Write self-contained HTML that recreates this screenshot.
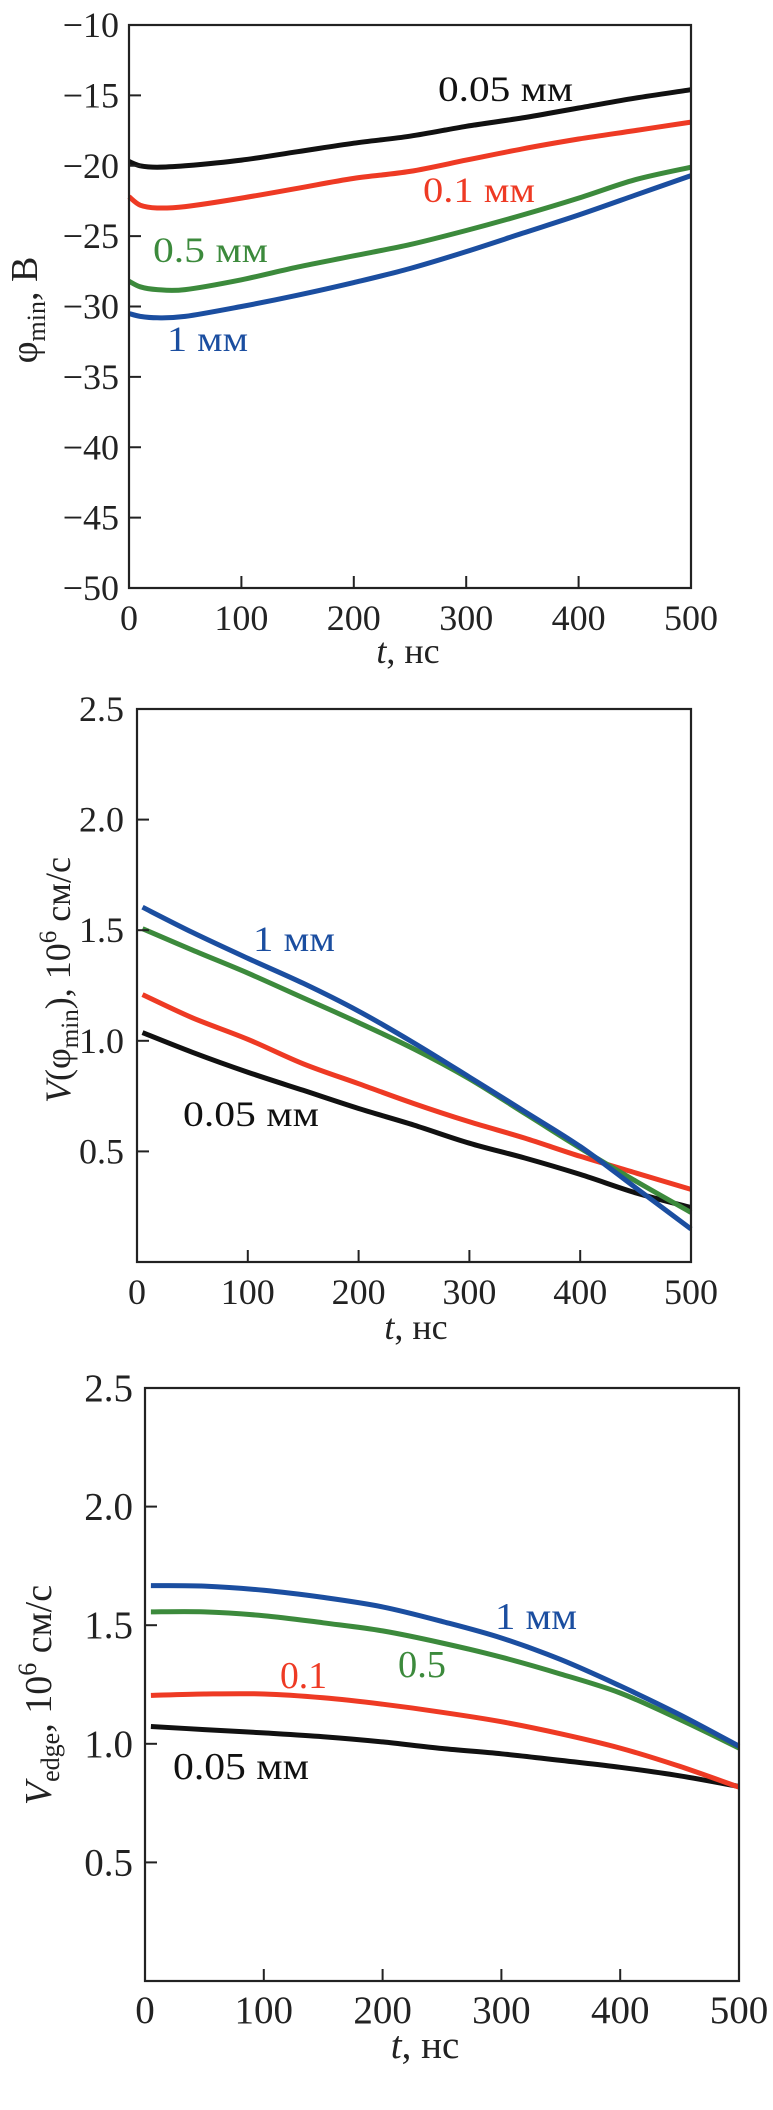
<!DOCTYPE html>
<html><head><meta charset="utf-8"><style>
html,body{margin:0;padding:0;background:#fff;}
svg{display:block;font-family:"Liberation Serif",serif;}
</style></head><body>
<svg id="fig" width="773" height="2110" viewBox="0 0 773 2110" xmlns="http://www.w3.org/2000/svg"></svg>
<script>
// ---------- data ----------
const tVals1 = [0,10,25,50,100,150,200,250,300,350,400,450,500];
const phiBlack = [-19.7,-20.0,-20.1,-20.0,-19.6,-19.0,-18.4,-17.9,-17.2,-16.6,-15.9,-15.2,-14.6];
const phiRed   = [-22.2,-22.8,-23.0,-22.9,-22.3,-21.6,-20.9,-20.4,-19.6,-18.8,-18.1,-17.5,-16.9];
const phiGreen = [-28.2,-28.6,-28.8,-28.8,-28.1,-27.2,-26.4,-25.6,-24.6,-23.5,-22.3,-21.0,-20.1];
const phiBlue  = [-30.5,-30.7,-30.8,-30.7,-30.0,-29.2,-28.3,-27.3,-26.1,-24.8,-23.5,-22.1,-20.7];
const yTicks1 = [-10,-15,-20,-25,-30,-35,-40,-45,-50];

const tVals2 = [5,50,100,150,200,250,300,350,400,450,500];
const vBlack = [1.037,0.948,0.858,0.776,0.694,0.619,0.537,0.470,0.396,0.313,0.246];
const vRed   = [1.209,1.104,1.007,0.896,0.806,0.716,0.634,0.560,0.478,0.403,0.328];
const vGreen = [1.507,1.410,1.306,1.194,1.082,0.963,0.828,0.672,0.515,0.366,0.224];
const vBlue  = [1.604,1.490,1.373,1.260,1.134,0.990,0.836,0.680,0.522,0.336,0.149];
const yTicks2 = [2.5,2.0,1.5,1.0,0.5];
const yTickLabels2 = ["2.5","2.0","1.5","1.0","0.5"];

const tVals3 = [5,50,100,150,200,250,300,350,400,450,500];
const eBlack = [1.073,1.060,1.046,1.030,1.008,0.980,0.958,0.930,0.901,0.865,0.820];
const eRed   = [1.204,1.210,1.210,1.194,1.167,1.133,1.093,1.042,0.982,0.905,0.817];
const eGreen = [1.556,1.556,1.540,1.510,1.476,1.425,1.365,1.294,1.214,1.103,0.982];
const eBlue  = [1.667,1.665,1.647,1.617,1.577,1.516,1.446,1.355,1.244,1.123,0.990];
const yTicks3 = [2.5,2.0,1.5,1.0,0.5];
const yTickLabels3 = ["2.5","2.0","1.5","1.0","0.5"];

const xTicks = [0,100,200,300,400,500];

const COLORS = {black:"#111111", red:"#ee3a24", green:"#3c8a3c", blue:"#1b4ea0"};
const NS = "http://www.w3.org/2000/svg";
const svg = document.getElementById("fig");

function el(tag, attrs, parent, text){
  const e = document.createElementNS(NS, tag);
  for (const k in attrs) e.setAttribute(k, attrs[k]);
  if (text !== undefined) e.textContent = text;
  (parent||svg).appendChild(e);
  return e;
}

function smoothPath(pts){
  let d = "M" + pts[0][0].toFixed(1) + "," + pts[0][1].toFixed(1);
  for (let i = 0; i < pts.length - 1; i++) {
    const p0 = pts[i-1] || pts[i], p1 = pts[i], p2 = pts[i+1], p3 = pts[i+2] || pts[i+1];
    const c1x = p1[0] + (p2[0]-p0[0])/6, c1y = p1[1] + (p2[1]-p0[1])/6;
    const c2x = p2[0] - (p3[0]-p1[0])/6, c2y = p2[1] - (p3[1]-p1[1])/6;
    d += "C" + c1x.toFixed(1) + "," + c1y.toFixed(1) + " " + c2x.toFixed(1) + "," + c2y.toFixed(1) + " " + p2[0].toFixed(1) + "," + p2[1].toFixed(1);
  }
  return d;
}

function panel(p){
  const g = el("g", {});
  
  
  const sx = v => p.x0 + (v - 0) / 500 * (p.x1 - p.x0);
  const sy = v => p.yTop + (p.yMax - v) / (p.yMax - p.yMin) * (p.yBot - p.yTop);
  p.series.forEach(s => {
    const pts = s.vals.map((v,i) => [sx(s.t[i]), sy(v)]);
    const path = el("path", {d:smoothPath(pts), fill:"none", stroke:COLORS[s.color], "stroke-width":5, "stroke-linejoin":"round"}, g);
    
    
  });
  const fr = el("rect", {x:p.x0, y:p.yTop, width:p.x1-p.x0, height:p.yBot-p.yTop, fill:"none", stroke:"#222", "stroke-width":2.2}, g);
  
  
  p.yTicks.forEach((v,i) => {
    const y = sy(v);
    if (v !== p.yMax && v !== p.yMin) {
      const tk = el("line", {x1:p.x0, x2:p.x0+12, y1:y, y2:y, stroke:"#222", "stroke-width":2}, g);
      
      
    }
    const lb = el("text", {x:p.yLabelRight, y:y+p.yLabelDy, "text-anchor":"end", "font-size":p.fs, fill:"#222"}, g, p.yLabels[i]);
    
    
  });
  xTicks.forEach(v => {
    const x = sx(v);
    if (v !== 0 && v !== 500) {
      const tk = el("line", {x1:x, x2:x, y1:p.yBot, y2:p.yBot-12, stroke:"#222", "stroke-width":2}, g);
      
      
    }
    const lb = el("text", {x:x, y:p.xLabelY, "text-anchor":"middle", "font-size":p.fs, fill:"#222"}, g, String(v));
    
    
  });
  const xt = el("text", {x:p.xTitleX, y:p.xTitleY, "text-anchor":"middle", "font-size":p.fs, fill:"#222"}, g);
  
  
  el("tspan", {"font-style":"italic"}, xt, "t");
  el("tspan", {}, xt, ", нс");
  p.labels.forEach(l => {
    const t = el("text", {x:l.x, y:l.y, "font-size":p.lfs, fill:COLORS[l.color], textLength:l.w, lengthAdjust:"spacingAndGlyphs"}, g, l.text);
    
    
  });
  return {g, sx, sy};
}

const P1 = panel({name:"phi-min-chart", x0:129, x1:691, yTop:25, yBot:588, yMin:-50, yMax:-10,
  yTicks:yTicks1, yLabels:yTicks1.map(v => "\u2212" + Math.abs(v)), yLabelRight:119, yLabelDy:12, fs:36, lfs:36,
  xLabelY:630, xTitleX:408, xTitleY:663,
  series:[
    {t:tVals1, vals:phiBlack, color:"black", dname:"line-0.05mm"},
    {t:tVals1, vals:phiRed, color:"red", dname:"line-0.1mm"},
    {t:tVals1, vals:phiGreen, color:"green", dname:"line-0.5mm"},
    {t:tVals1, vals:phiBlue, color:"blue", dname:"line-1mm"}],
  labels:[
    {text:"0.05 мм", x:438, y:101, w:135, color:"black", dname:"label-0.05mm"},
    {text:"0.1 мм", x:423, y:202, w:112, color:"red", dname:"label-0.1mm"},
    {text:"0.5 мм", x:153, y:262, w:115, color:"green", dname:"label-0.5mm"},
    {text:"1 мм", x:167, y:351, w:81, color:"blue", dname:"label-1mm"}]
});
{
  const t = el("text", {transform:"translate(37,310) rotate(-90)", "text-anchor":"middle", "font-size":38, fill:"#222"}, P1.g);
  
  
  el("tspan", {}, t, "φ");
  el("tspan", {"font-size":26, dy:8}, t, "min");
  el("tspan", {dy:-8}, t, ", B");
}

const P2 = panel({name:"velocity-phi-min-chart", x0:137, x1:691, yTop:709, yBot:1262, yMin:0, yMax:2.5,
  yTicks:yTicks2, yLabels:yTickLabels2, yLabelRight:124, yLabelDy:12, fs:36, lfs:36,
  xLabelY:1304, xTitleX:416, xTitleY:1339,
  series:[
    {t:tVals2, vals:vBlack, color:"black", dname:"line-0.05mm"},
    {t:tVals2, vals:vRed, color:"red", dname:"line-0.1mm"},
    {t:tVals2, vals:vGreen, color:"green", dname:"line-0.5mm"},
    {t:tVals2, vals:vBlue, color:"blue", dname:"line-1mm"}],
  labels:[
    {text:"1 мм", x:253, y:951, w:82, color:"blue", dname:"label-1mm"},
    {text:"0.05 мм", x:183, y:1126, w:136, color:"black", dname:"label-0.05mm"}]
});
{
  const t = el("text", {transform:"translate(70,980) rotate(-90)", "text-anchor":"middle", "font-size":36, fill:"#222"}, P2.g);
  
  
  el("tspan", {"font-style":"italic"}, t, "V");
  el("tspan", {}, t, "(φ");
  el("tspan", {"font-size":25, dy:8}, t, "min");
  el("tspan", {dy:-8}, t, "), 10");
  el("tspan", {"font-size":25, dy:-14}, t, "6");
  el("tspan", {dy:14}, t, " см/с");
}

const P3 = panel({name:"velocity-edge-chart", x0:145, x1:739, yTop:1388, yBot:1981, yMin:0, yMax:2.5,
  yTicks:yTicks3, yLabels:yTickLabels3, yLabelRight:133, yLabelDy:13, fs:39, lfs:38,
  xLabelY:2023, xTitleX:425, xTitleY:2058,
  series:[
    {t:tVals3, vals:eBlack, color:"black", dname:"line-0.05mm"},
    {t:tVals3, vals:eRed, color:"red", dname:"line-0.1mm"},
    {t:tVals3, vals:eGreen, color:"green", dname:"line-0.5mm"},
    {t:tVals3, vals:eBlue, color:"blue", dname:"line-1mm"}],
  labels:[
    {text:"1 мм", x:495, y:1629, w:82, color:"blue", dname:"label-1mm"},
    {text:"0.5", x:398, y:1677, w:48, color:"green", dname:"label-0.5"},
    {text:"0.1", x:280, y:1688, w:47, color:"red", dname:"label-0.1"},
    {text:"0.05 мм", x:173, y:1779, w:136, color:"black", dname:"label-0.05mm"}]
});
{
  const t = el("text", {transform:"translate(51,1695) rotate(-90)", "text-anchor":"middle", "font-size":38, fill:"#222"}, P3.g);
  
  
  el("tspan", {"font-style":"italic"}, t, "V");
  el("tspan", {"font-size":26, dy:8}, t, "edge");
  el("tspan", {dy:-8}, t, ", 10");
  el("tspan", {"font-size":26, dy:-15}, t, "6");
  el("tspan", {dy:15}, t, " см/с");
}
</script>
</body></html>
